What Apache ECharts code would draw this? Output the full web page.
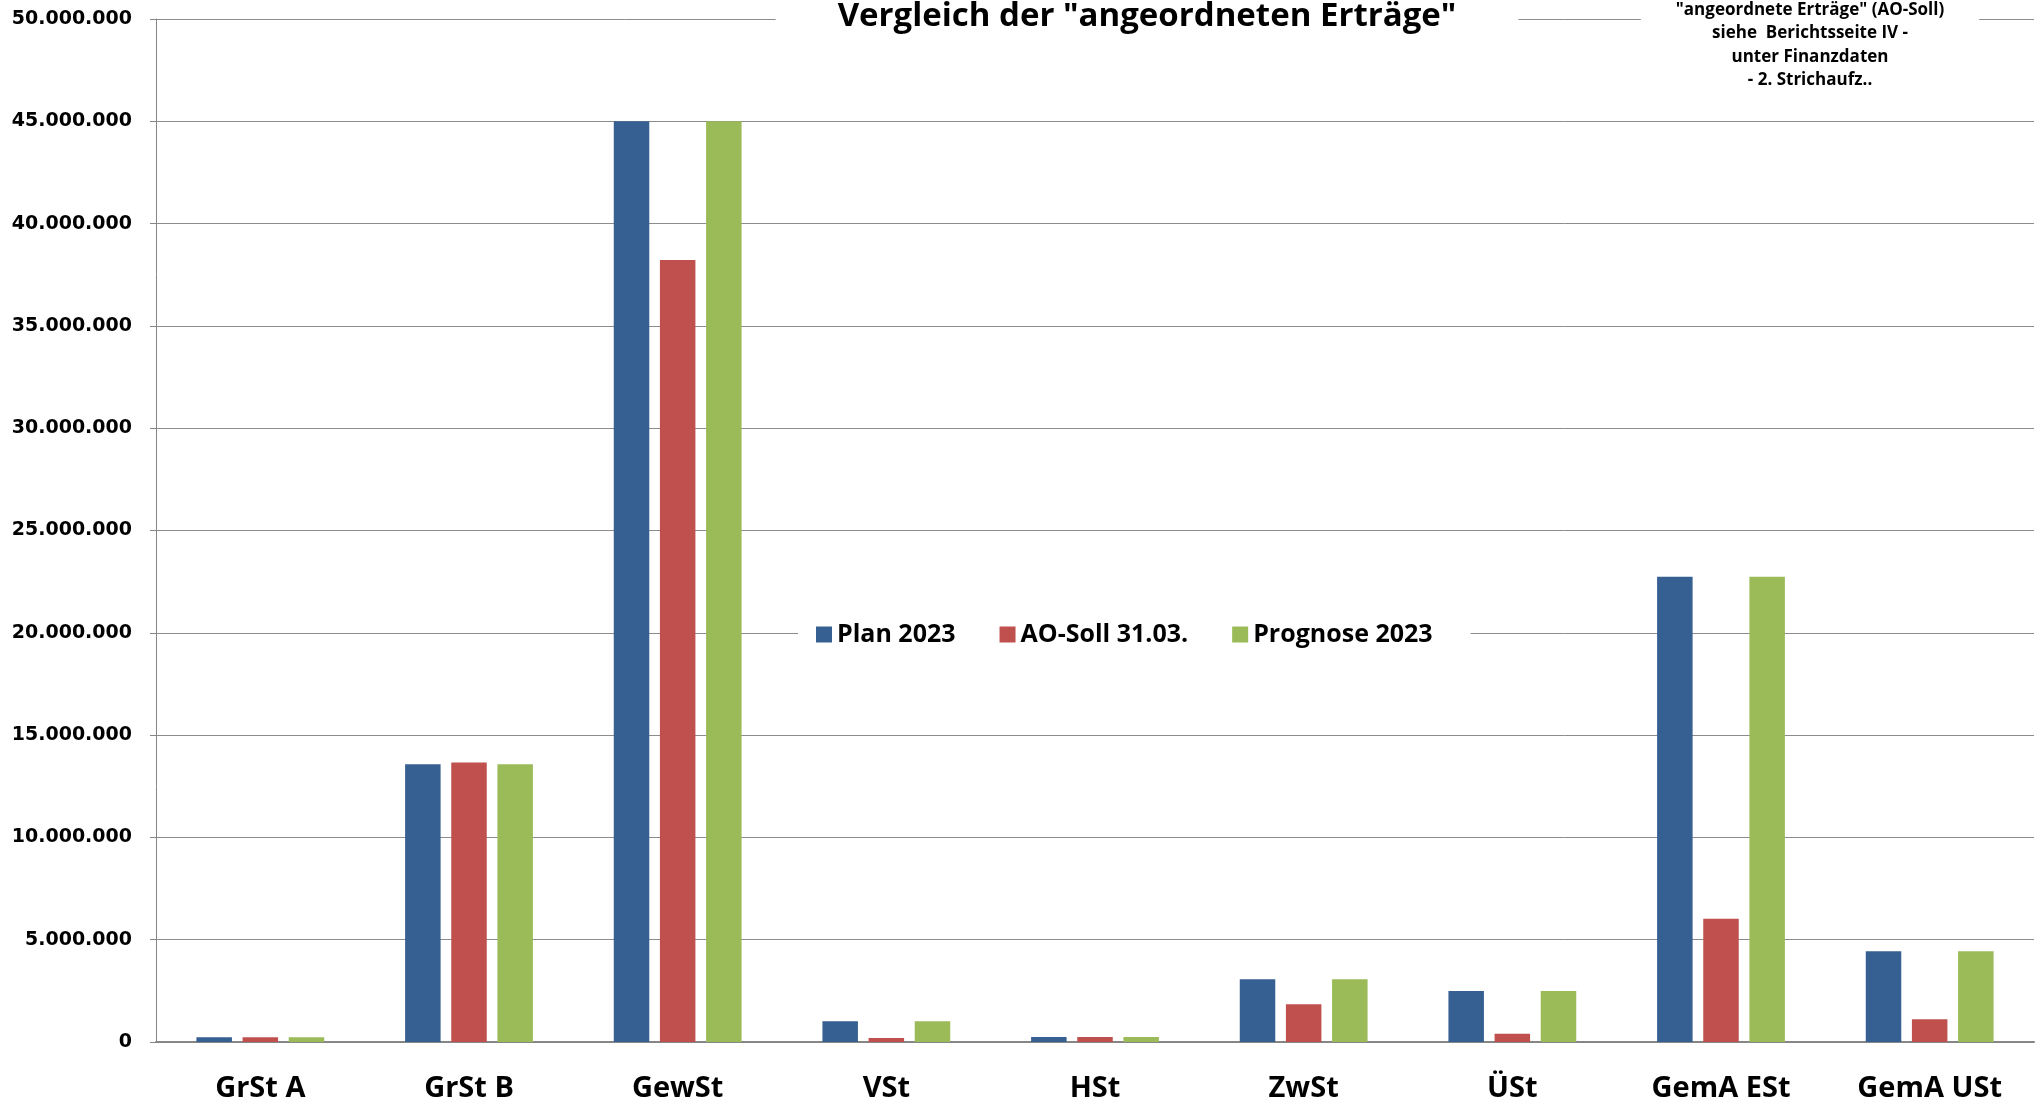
<!DOCTYPE html>
<html>
<head>
<meta charset="utf-8">
<title>Vergleich der angeordneten Erträge</title>
<script src="https://cdn.jsdelivr.net/npm/echarts@6/dist/echarts.min.js"></script>
<style>
  html, body { margin: 0; padding: 0; background: #fff; }
  #chart { width: 2044px; height: 1104px; }
</style>
</head>
<body>
<div id="chart"></div>
<script>
// Kategorien und Werte
var categories = ['GrSt A', 'GrSt B', 'GewSt', 'VSt', 'HSt', 'ZwSt', 'ÜSt', 'GemA ESt', 'GemA USt'];
var plan2023 = [230000, 13580000, 45000000, 1020000, 250000, 3070000, 2490000, 22740000, 4430000];
var aoSoll = [230000, 13660000, 38220000, 190000, 250000, 1840000, 400000, 6030000, 1110000];
var prognose2023 = [230000, 13580000, 45000000, 1020000, 250000, 3070000, 2490000, 22740000, 4430000];
var seriesNames = ['Plan 2023', 'AO-Soll 31.03.', 'Prognose 2023'];
var colors = ['#376092', '#C0504D', '#9BBB59'];
var noteLines = ['"angeordnete Erträge" (AO-Soll)', 'siehe  Berichtsseite IV -', 'unter Finanzdaten', '- 2. Strichaufz..'];

var font = "'Open Sans', sans-serif";

function punkte(v) {
    return String(v).replace(/\B(?=(\d{3})+(?!\d))/g, '.');
}

var chart = echarts.init(document.getElementById('chart'));

function bar(name, data) {
    return {
        type: 'bar',
        name: name,
        data: data,
        barWidth: 35.5,
        barGap: '30%'
    };
}

var option = {
    animation: false,
    color: colors,
    title: [{
        text: 'Vergleich der "angeordneten Erträge"',
        left: 1085,
        top: 0,
        textAlign: 'center',
        padding: [0, 62, 6, 62],
        backgroundColor: '#fff',
        textStyle: { fontFamily: font, fontWeight: 'bold', fontSize: 33, lineHeight: 33, color: '#000' }
    }, {
        text: noteLines.join('\n'),
        left: 1775,
        top: -2,
        textAlign: 'center',
        padding: [0, 35, 4, 35],
        backgroundColor: '#fff',
        textStyle: { fontFamily: font, fontWeight: 'bold', fontSize: 17, lineHeight: 23.5, color: '#000' }
    }],
    legend: {
        data: seriesNames,
        left: 798,
        top: 618,
        padding: [4, 38, 4, 18],
        backgroundColor: '#fff',
        icon: 'rect',
        itemWidth: 16,
        itemHeight: 16,
        itemGap: 44,
        textStyle: { fontFamily: font, fontWeight: 'bold', fontSize: 25, color: '#000' }
    },
    grid: { left: 156, right: 10, top: 19, bottom: 62, outerBoundsMode: 'none' },
    xAxis: {
        type: 'category',
        data: categories,
        axisLine: { lineStyle: { color: '#868686', width: 2 } },
        axisTick: { show: false },
        axisLabel: { fontFamily: font, fontWeight: 'bold', fontSize: 29, color: '#000', margin: 32 }
    },
    yAxis: {
        type: 'value',
        min: 0,
        max: 50000000,
        interval: 5000000,
        axisLine: { show: true, lineStyle: { color: '#868686', width: 1 } },
        axisTick: { show: true, length: 6, lineStyle: { color: '#868686' } },
        splitLine: { lineStyle: { color: '#8c8c8c', width: 1 } },
        axisLabel: {
            fontFamily: "'DejaVu Sans', sans-serif",
            fontWeight: 'bold',
            fontSize: 19,
            color: '#000',
            margin: 24,
            formatter: punkte
        }
    },
    series: [
        bar(seriesNames[0], plan2023),
        bar(seriesNames[1], aoSoll),
        bar(seriesNames[2], prognose2023)
    ]
};

chart.setOption(option);
</script>
</body>
</html>
